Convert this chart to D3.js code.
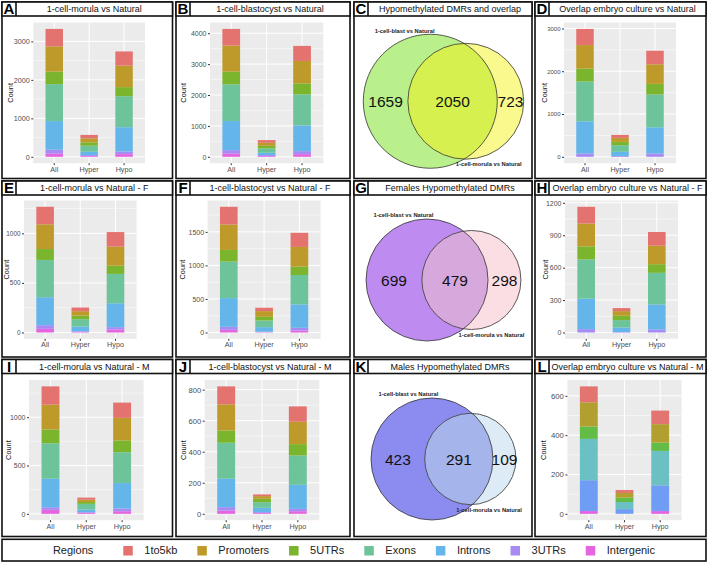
<!DOCTYPE html>
<html lang="en">
<head>
<meta charset="UTF-8">
<title>DMR regions</title>
<script src="https://d3js.org/d3.v7.min.js"></script>
<style>
  * { margin: 0; padding: 0; box-sizing: border-box; }
  body { background: #fff; font-family: "Liberation Sans", Arial, sans-serif; }
  svg { display: block; }
</style>
</head>
<body>
<div id="chart"></div>
<script>
// ---- data ----
const categories = ["All", "Hyper", "Hypo"];
const regions = ["1to5kb", "Promoters", "5UTRs", "Exons", "Introns", "3UTRs", "Intergenic"];
const regionColors = ["#E4736F", "#BD9A2A", "#7BB52D", "#6DC49B", "#64B5E9", "#A68BF5", "#E564E0"];
// panel L was drawn with a 6-level palette (no 3UTRs)
const regionColorsL = ["#E37571", "#B1A030", "#62BC45", "#6AC0C3", "#6F9DF3", "#A68BF5", "#E462E2"];

// counts per region (same order as regions), each [All, Hyper, Hypo]
const morula       = [[455, 88, 368], [656, 105, 560], [324, 87, 236], [962, 158, 805], [744, 87, 630], [97, 24, 70], [87, 20, 70]];
const blastocyst   = [[540, 86, 487], [843, 97, 724], [411, 87, 357], [1189, 140, 1005], [941, 75, 832], [108, 30, 98], [108, 25, 86]];
const overlapAll   = [[378, 70, 318], [550, 93, 457], [303, 78, 248], [930, 155, 767], [751, 96, 612], [78, 20, 78], [0, 0, 0]];
const morulaF      = [[177, 37, 147], [249, 44, 191], [110, 37, 84], [376, 74, 296], [282, 48, 241], [37, 6, 24], [37, 6, 30]];
const blastocystF  = [[264, 50, 210], [379, 85, 294], [174, 55, 125], [544, 99, 438], [428, 68, 349], [45, 7, 40], [40, 5, 30]];
const overlapF     = [[155, 28, 127], [211, 43, 171], [121, 40, 80], [363, 68, 292], [282, 42, 232], [31, 5, 28], [0, 0, 0]];
const morulaM      = [[189, 21, 158], [257, 24, 233], [143, 20, 123], [367, 58, 319], [295, 28, 263], [27, 7, 28], [41, 10, 27]];
const blastocystM  = [[116, 11, 99], [168, 17, 144], [79, 22, 73], [232, 36, 189], [183, 28, 155], [22, 6, 15], [21, 5, 17]];
const overlapM     = [[81, 15, 69], [123, 24, 94], [63, 22, 42], [210, 36, 175], [157, 24, 131], [0, 0, 0], [14, 0, 14]];

const ticksA = [0, 1000, 2000, 3000];
const ticksB = [0, 1000, 2000, 3000, 4000];
const ticksD = [0, 1000, 2000, 3000];
const ticksE = [0, 500, 1000];
const ticksF = [0, 500, 1000, 1500];
const ticksH = [0, 300, 600, 900, 1200];
const ticksI = [0, 500, 1000];
const ticksJ = [0, 200, 400, 600, 800];
const ticksL = [0, 200, 400, 600];

// venn: [only blast, both, only morula]
const vennLabels = ["1-cell-blast vs Natural", "1-cell-morula vs Natural"];
const vennAll = [1659, 2050, 723];
const vennFemale = [699, 479, 298];
const vennMale = [423, 291, 109];

// ---- layout ----
const W = 708, H = 563;
const cols = [[2, 172.5], [176, 350], [354, 532], [535, 706]];
const rows = [
  {y0: 2, y1: 178.5, top: 22.5, bot: 163.2},
  {y0: 181, y1: 357, top: 200.5, bot: 338.8},
  {y0: 359.5, y1: 536.5, top: 380, bot: 520.2}
];

const panels = [
  {tag: "A", title: "1-cell-morula vs Natural", kind: "bar", counts: morula, ticks: ticksA, col: 0, row: 0, left: 33.3, width: 111.7, tf: 7.2, cdx: 8},
  {tag: "B", title: "1-cell-blastocyst vs Natural", kind: "bar", counts: blastocyst, ticks: ticksB, col: 1, row: 0, left: 210, width: 113.3, tf: 7, cdx: 7.3},
  {tag: "C", title: "Hypomethylated DMRs and overlap", kind: "venn", counts: vennAll, col: 2, row: 0, maxR: 67,
   fills: ["#B9F08C", "#FAF98D", "#D6F050"]},
  {tag: "D", title: "Overlap embryo culture vs Natural", kind: "bar", counts: overlapAll, ticks: ticksD, col: 3, row: 0, left: 564, width: 112, tf: 6, cdx: 9},
  {tag: "E", title: "1-cell-morula vs Natural - F", kind: "bar", counts: morulaF, ticks: ticksE, col: 0, row: 1, left: 24, width: 112.6, tf: 6.4, cdx: 4},
  {tag: "F", title: "1-cell-blastocyst vs Natural - F", kind: "bar", counts: blastocystF, ticks: ticksF, col: 1, row: 1, left: 207.6, width: 113, tf: 7, cdx: 5.7},
  {tag: "G", title: "Females Hypomethylated DMRs", kind: "venn", counts: vennFemale, col: 2, row: 1, maxR: 61,
   fills: ["#BE8CF0", "#FADEE4", "#D7A8DC"]},
  {tag: "H", title: "Overlap embryo culture vs Natural - F", kind: "bar", counts: overlapF, ticks: ticksH, col: 3, row: 1, left: 565, width: 113, tf: 7, cdx: 10.3},
  {tag: "I", title: "1-cell-morula vs Natural - M", kind: "bar", counts: morulaM, ticks: ticksI, col: 0, row: 2, left: 29, width: 114.6, tf: 7, cdx: 6.3},
  {tag: "J", title: "1-cell-blastocyst vs Natural - M", kind: "bar", counts: blastocystM, ticks: ticksJ, col: 1, row: 2, left: 204.7, width: 114.6, tf: 7.6, cdx: 6.7},
  {tag: "K", title: "Males Hypomethylated DMRs", kind: "venn", counts: vennMale, col: 2, row: 2, maxR: 61,
   fills: ["#8C8CF0", "#DCEBF5", "#A5B4EB"]},
  {tag: "L", title: "Overlap embryo culture vs Natural - M", kind: "bar", counts: overlapM, ticks: ticksL, col: 3, row: 2, left: 567.4, width: 114.2, tf: 7.8, cdx: 8, palette: regionColorsL}
];

const svg = d3.select("#chart").append("svg")
  .attr("width", W).attr("height", H)
  .style("font-family", "'Liberation Sans', Arial, sans-serif");

const TITLE_H = 14, TAG_W = 14;

panels.forEach((p, pi) => {
  const [x0, x1] = cols[p.col];
  const r = rows[p.row];
  const g = svg.append("g");

  g.append("rect")
    .attr("x", x0).attr("y", r.y0).attr("width", x1 - x0).attr("height", r.y1 - r.y0)
    .attr("fill", "#fff").attr("stroke", "#111").attr("stroke-width", 1.6);

  if (p.kind === "bar") drawBars(g, p, r);
  else drawVenn(g, p, x0, x1, r, pi);

  // title bar
  g.append("rect")
    .attr("x", x0).attr("y", r.y0).attr("width", x1 - x0).attr("height", TITLE_H)
    .attr("fill", "#fff").attr("stroke", "#111").attr("stroke-width", 1.6);
  g.append("line")
    .attr("x1", x0 + TAG_W).attr("x2", x0 + TAG_W)
    .attr("y1", r.y0).attr("y2", r.y0 + TITLE_H)
    .attr("stroke", "#111").attr("stroke-width", 1.6);
  g.append("text")
    .attr("x", x0 + TAG_W / 2).attr("y", r.y0 + TITLE_H / 2 + 5.2)
    .attr("text-anchor", "middle")
    .style("font-size", "15px").style("font-weight", "bold")
    .text(p.tag);
  g.append("text")
    .attr("x", (x0 + TAG_W + x1) / 2).attr("y", r.y0 + TITLE_H / 2 + 3.2)
    .attr("text-anchor", "middle")
    .style("font-size", "9px").attr("fill", "#111")
    .text(p.title);
});

function drawBars(g, p, r) {
  const keys = regions.slice().reverse();           // bottom of stack first
  const colors = p.palette || regionColors;
  const colorOf = d3.scaleOrdinal().domain(regions).range(colors);

  const table = categories.map((c, i) => {
    const row = {cat: c};
    regions.forEach((reg, k) => row[reg] = p.counts[k][i]);
    return row;
  });
  const series = d3.stack().keys(keys)(table);
  const maxTotal = d3.max(table, d => d3.sum(regions, k => d[k]));

  const x = d3.scaleBand().domain(categories)
    .range([p.left, p.left + p.width])
    .paddingInner(0.5).paddingOuter(0.35);
  const y = d3.scaleLinear()
    .domain([-0.05 * maxTotal, 1.05 * maxTotal])
    .range([r.bot, r.top]);

  g.append("rect")
    .attr("x", p.left).attr("y", r.top)
    .attr("width", p.width).attr("height", r.bot - r.top)
    .attr("fill", "#EBEBEB");

  const step = p.ticks[1] - p.ticks[0];
  const minors = [p.ticks[0] - step / 2].concat(p.ticks.map(t => t + step / 2))
    .filter(v => v > y.domain()[0] && v < y.domain()[1]);

  g.selectAll(".minor").data(minors).enter().append("line")
    .attr("x1", p.left).attr("x2", p.left + p.width)
    .attr("y1", d => y(d)).attr("y2", d => y(d))
    .attr("stroke", "#fff").attr("stroke-width", 0.5);
  g.selectAll(".major").data(p.ticks).enter().append("line")
    .attr("x1", p.left).attr("x2", p.left + p.width)
    .attr("y1", d => y(d)).attr("y2", d => y(d))
    .attr("stroke", "#fff").attr("stroke-width", 1);
  g.selectAll(".vgrid").data(categories).enter().append("line")
    .attr("x1", d => x(d) + x.bandwidth() / 2).attr("x2", d => x(d) + x.bandwidth() / 2)
    .attr("y1", r.top).attr("y2", r.bot)
    .attr("stroke", "#fff").attr("stroke-width", 1);

  series.forEach(s => {
    g.append("g").attr("fill", colorOf(s.key))
      .selectAll("rect").data(s).enter().append("rect")
      .attr("x", d => x(d.data.cat))
      .attr("width", x.bandwidth())
      .attr("y", d => y(d[1]))
      .attr("height", d => Math.max(0, y(d[0]) - y(d[1])));
  });

  const ya = g.append("g").attr("transform", `translate(${p.left},0)`)
    .call(d3.axisLeft(y).tickValues(p.ticks).tickFormat(d3.format("d")).tickSize(2).tickPadding(1.5));
  ya.select(".domain").remove();
  ya.selectAll("line").attr("stroke", "#333");
  ya.selectAll("text").attr("fill", "#4D4D4D").style("font-size", p.tf + "px")
    .style("font-family", "'Liberation Sans', Arial, sans-serif");

  const xa = g.append("g").attr("transform", `translate(0,${r.bot})`)
    .call(d3.axisBottom(x).tickSize(2).tickPadding(1.5));
  xa.select(".domain").remove();
  xa.selectAll("line").attr("stroke", "#333");
  xa.selectAll("text").attr("fill", "#4D4D4D").style("font-size", "7.2px")
    .style("font-family", "'Liberation Sans', Arial, sans-serif");

  const cx = cols[p.col][0] + p.cdx;
  g.append("text")
    .attr("transform", `translate(${cx + 2.8},${(r.top + r.bot) / 2}) rotate(-90)`)
    .attr("text-anchor", "middle")
    .style("font-size", "7.4px").attr("fill", "#111")
    .text("Count");
}

function lensArea(r1, r2, d) {
  if (d >= r1 + r2) return 0;
  if (d <= Math.abs(r1 - r2)) return Math.PI * Math.min(r1, r2) ** 2;
  const a1 = Math.acos((d * d + r1 * r1 - r2 * r2) / (2 * d * r1));
  const a2 = Math.acos((d * d + r2 * r2 - r1 * r1) / (2 * d * r2));
  return r1 * r1 * (a1 - Math.sin(a1) * Math.cos(a1)) + r2 * r2 * (a2 - Math.sin(a2) * Math.cos(a2));
}

function drawVenn(g, p, x0, x1, r, pi) {
  const [onlyL, both, onlyR] = p.counts;
  const nL = onlyL + both, nR = onlyR + both;
  const rad = d3.scaleSqrt().domain([0, Math.max(nL, nR)]).range([0, p.maxR]);
  const r1 = rad(nL), r2 = rad(nR);
  const target = both * Math.PI * r1 * r1 / nL;
  let lo = Math.abs(r1 - r2), hi = r1 + r2;
  for (let i = 0; i < 60; i++) {
    const mid = (lo + hi) / 2;
    if (lensArea(r1, r2, mid) > target) lo = mid; else hi = mid;
  }
  const d = (lo + hi) / 2;
  const span = r1 + d + r2;
  const cx1 = (x0 + x1) / 2 + 0.5 - span / 2 + r1;
  const cx2 = cx1 + d;
  const cy = (r.y0 + TITLE_H + r.y1) / 2 + 4;

  const clipId = "clip" + pi;
  g.append("clipPath").attr("id", clipId)
    .append("circle").attr("cx", cx1).attr("cy", cy).attr("r", r1);

  g.append("circle").attr("cx", cx1).attr("cy", cy).attr("r", r1).attr("fill", p.fills[0]);
  g.append("circle").attr("cx", cx2).attr("cy", cy).attr("r", r2).attr("fill", p.fills[1]);
  g.append("circle").attr("cx", cx2).attr("cy", cy).attr("r", r2).attr("fill", p.fills[2])
    .attr("clip-path", `url(#${clipId})`);
  [[cx1, r1], [cx2, r2]].forEach(([c, rr]) => {
    g.append("circle").attr("cx", c).attr("cy", cy).attr("r", rr)
      .attr("fill", "none").attr("stroke", "#333").attr("stroke-width", 0.8);
  });

  const xs = [
    ((cx1 - r1) + (cx2 - r2)) / 2,
    ((cx2 - r2) + (cx1 + r1)) / 2,
    ((cx1 + r1) + (cx2 + r2)) / 2
  ];
  g.selectAll(".num").data(p.counts).enter().append("text")
    .attr("x", (v, i) => xs[i]).attr("y", cy + 5.6)
    .attr("text-anchor", "middle")
    .style("font-size", "15.5px").attr("fill", "#111")
    .text(v => v);

  const ang = 20 * Math.PI / 180;
  g.append("text")
    .attr("x", cx1 - (r1 + 8) * Math.sin(ang)).attr("y", cy - (r1 + 8) * Math.cos(ang) + 2)
    .attr("text-anchor", "middle")
    .style("font-size", "5.8px").style("font-weight", "bold").attr("fill", "#222")
    .text(vennLabels[0]);
  g.append("text")
    .attr("x", cx2 + (r2 + 9) * Math.sin(ang)).attr("y", cy + (r2 + 9) * Math.cos(ang) + 2)
    .attr("text-anchor", "middle")
    .style("font-size", "5.8px").style("font-weight", "bold").attr("fill", "#222")
    .text(vennLabels[1]);
}

// ---- legend ----
const lg = svg.append("g");
lg.append("rect").attr("x", 2).attr("y", 539.3).attr("width", 704).attr("height", 21.7)
  .attr("fill", "#fff").attr("stroke", "#111").attr("stroke-width", 1.6);
const ly = 550.5;
const items = lg.append("g");
const titleT = items.append("text").attr("x", 0).attr("y", ly + 3.8)
  .style("font-size", "11px").attr("fill", "#222").text("Regions");
let cur = titleT.node().getComputedTextLength() + 30;
regions.forEach((reg, i) => {
  items.append("rect").attr("x", cur).attr("y", ly - 4.5).attr("width", 9.5).attr("height", 9.5)
    .attr("fill", regionColors[i]);
  const t = items.append("text").attr("x", cur + 21).attr("y", ly + 3.8)
    .style("font-size", "11px").attr("fill", "#222").text(reg);
  cur += 21 + t.node().getComputedTextLength() + 20;
});
const total = cur - 20;
items.attr("transform", `translate(${(W - total) / 2},0)`);
</script>
</body>
</html>
